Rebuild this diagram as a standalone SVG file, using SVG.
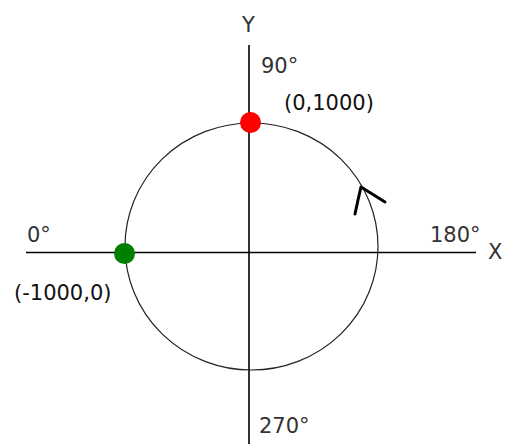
<svg xmlns="http://www.w3.org/2000/svg" width="505" height="444" viewBox="0 0 505 444">
<style>
.lbl{font-family:"DejaVu Sans",sans-serif;font-size:21px;fill:#333}
.crd{font-family:"DejaVu Sans",sans-serif;font-size:21px;fill:#111}
.ax{stroke:#000;stroke-width:1.6;fill:none}
</style>
<rect width="505" height="444" fill="#fff"/>
<g id="connectors">
<line class="ax" x1="26" y1="252.5" x2="476" y2="252.5"/>
<line class="ax" x1="249" y1="45" x2="249" y2="444"/>
<ellipse id="circle" cx="251.5" cy="246.5" rx="126.5" ry="123.5" fill="none" stroke="#222" stroke-width="1.2"/>
<path id="arrow" d="M355 214 L358 200 L361 187 L385 202" fill="none" stroke="#000" stroke-width="3" stroke-linecap="round" stroke-linejoin="round"/>
</g>
<g id="point-top"><circle cx="250.5" cy="122.5" r="10.5" fill="#ff0000"/></g>
<g id="point-left"><circle cx="124.5" cy="253.5" r="10.5" fill="#008000"/></g>
<g id="labels">
<text class="lbl" x="242" y="32">Y</text>
<text class="lbl" x="488" y="259">X</text>
<text class="lbl" x="261" y="73">90°</text>
<text class="lbl" x="430" y="242">180°</text>
<text class="lbl" x="27" y="242">0°</text>
<text class="lbl" x="259" y="433">270°</text>
<text class="crd" x="284" y="110">(0,1000)</text>
<text class="crd" x="14" y="300">(-1000,0)</text>
</g>
</svg>
